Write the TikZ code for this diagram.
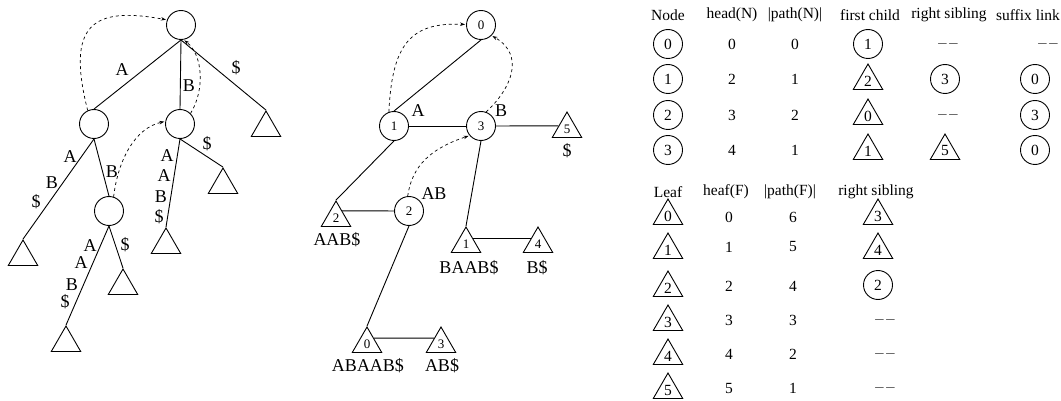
\documentclass[tikz,border=0pt]{standalone}
\usepackage{fontspec}
\setmainfont{Liberation Serif}
\usetikzlibrary{shapes.geometric,arrows.meta,calc}

\begin{document}
\begin{tikzpicture}[x=1pt,y=-1pt,line width=.9pt,
  vtx/.style={circle,draw,minimum size=29pt,inner sep=0pt},
  leaf/.style={regular polygon,regular polygon sides=3,draw,minimum size=34pt,inner sep=0pt},
  link/.style={line width=.7pt,dashed,-{Stealth[length=5pt,width=3.5pt]},shorten >=1pt},
  lbl/.style={font=\fontsize{18}{20}\selectfont,inner sep=0pt},
  num/.style={font=\fontsize{13}{15}\selectfont},
  cell/.style={font=\fontsize{15.5}{18}\selectfont,inner sep=0pt}]
\useasboundingbox (0,0) rectangle (1061,401);
% Suffix tree
\node[vtx] (root) at (181,25) {};
\node[vtx] (lc) at (94,124) {};
\node[vtx] (mc) at (180,124) {};
\node[vtx] (llc) at (109,211) {};
\node[leaf] (lt1) at (266,128) {};
\node[leaf] (lt2) at (23,257) {};
\node[leaf] (lt3) at (66,343) {};
\node[leaf] (lt4) at (123,286) {};
\node[leaf] (lt5) at (166,245) {};
\node[leaf] (lt6) at (223,185) {};
\draw (root.south) -- (lc.north);
\draw (root.south) -- (mc.north);
\draw (root.south) -- (lt1.north);
\draw (lc.south) -- (lt2.north);
\draw (lc.south) -- (llc.north);
\draw (llc.south) -- (lt3.north);
\draw (llc.south) -- (lt4.north);
\draw (mc.south) -- (lt5.north);
\draw (mc.south) -- (lt6.north);
% Suffix links
\draw[link] (lc.115) .. controls (66,25) and (92,6) .. (root.160);
\draw[link] (llc.72) .. controls (118,160) and (135,128) .. (mc.170);
\draw[link] (mc.45) .. controls (205,90) and (203,55) .. (root.-80);
% Edge labels
\node[lbl] (e1) at (122,70) {A};
\node[lbl] (e2) at (189,86) {B};
\node[lbl] (e3) at (236,68) {\$};
\node[lbl] (e4) at (70,157) {A};
\node[lbl] (e5) at (52,183) {B};
\node[lbl] (e6) at (36,202) {\$};
\node[lbl] (e7) at (112,172) {B};
\node[lbl] (e8) at (90,246) {A};
\node[lbl] (e9) at (81,263) {A};
\node[lbl] (e10) at (72,285) {B};
\node[lbl] (e11) at (65,302) {\$};
\node[lbl] (e12) at (125,245) {\$};
\node[lbl] (e13) at (167,156) {A};
\node[lbl] (e14) at (164,176) {A};
\node[lbl] (e15) at (161,197) {B};
\node[lbl] (e16) at (159,217) {\$};
\node[lbl] (e17) at (207,144) {\$};
% Compact representation
\node[vtx,num] (n0) at (481,25) {0};
\node[vtx,num] (n1) at (394,126) {1};
\node[vtx,num] (n3) at (481,126) {3};
\node[vtx,num] (n2) at (409,211) {2};
\node[leaf,num] (t5) at (567,129) {5};
\node[leaf,num] (t2) at (336,218) {2};
\node[leaf,num] (t1) at (466,244) {1};
\node[leaf,num] (t4) at (538,244) {4};
\node[leaf,num] (t0) at (367,344) {0};
\node[leaf,num] (t3) at (441,344) {3};
\draw (n0.south) -- (n1.north);
\draw (n1) -- (n3);
\draw (n3) -- ($(t5.north)!.55!(t5.corner 2)$);
\draw (n1.south) -- (t2.north);
\draw (n2) -- ($(t2.north)!.4!(t2.corner 3)$);
\draw (n2.south) -- (t0.north);
\draw (n3.south) -- (t1.north);
\draw ($(t1.north)!.47!(t1.corner 3)$) -- ($(t4.north)!.47!(t4.corner 2)$);
\draw ($(t0.north)!.45!(t0.corner 3)$) -- ($(t3.north)!.45!(t3.corner 2)$);
\draw[link] (n1.110) .. controls (392,45) and (410,22) .. (n0.178);
\draw[link] (n3.70) .. controls (512,88) and (525,55) .. (n0.-45);
\draw[link] (n2.95) .. controls (412,165) and (432,148) .. (n3.220);
\node[lbl] (s1) at (418,111) {A};
\node[lbl] (s3) at (501,111) {B};
\node[lbl] (s2) at (434,194) {AB};
\node[lbl] (w5) at (567,151) {\$};
\node[lbl] (w2) at (337,240) {AAB\$};
\node[lbl] (w1) at (469,268) {BAAB\$};
\node[lbl] (w4) at (537,268) {B\$};
\node[lbl] (w0) at (368,366) {ABAAB\$};
\node[lbl] (w3) at (442,366) {AB\$};
% Node table
\node[cell] (hnode) at (668,15) {Node};
\node[cell] (hhead) at (732,15) {head(N)};
\node[cell] (hpath) at (795,15) {|path(N)|};
\node[cell] (hfirst) at (870,15) {first child};
\node[cell] (hright) at (949,15) {right sibling};
\node[cell] (hsuf) at (1028,15) {suffix link};
\node[vtx,cell] (a0) at (668,44) {0};
\node[cell] (a0h) at (732,44) {0};
\node[cell] (a0p) at (795,44) {0};
\node[vtx,cell] (a0f) at (868,44) {1};
\node[cell] (a0r) at (948,44) {$--$};
\node[cell] (a0s) at (1048,44) {$--$};
\node[vtx,cell] (a1) at (668,79) {1};
\node[cell] (a1h) at (732,79) {2};
\node[cell] (a1p) at (795,79) {1};
\node[leaf,cell] (a1f) at (868,81) {2};
\node[vtx,cell] (a1r) at (945,79) {3};
\node[vtx,cell] (a1s) at (1035,79) {0};
\node[vtx,cell] (a2) at (668,115) {2};
\node[cell] (a2h) at (732,115) {3};
\node[cell] (a2p) at (795,115) {2};
\node[leaf,cell] (a2f) at (868,116) {0};
\node[cell] (a2r) at (948,115) {$--$};
\node[vtx,cell] (a2s) at (1035,115) {3};
\node[vtx,cell] (a3) at (668,150) {3};
\node[cell] (a3h) at (732,150) {4};
\node[cell] (a3p) at (795,150) {1};
\node[leaf,cell] (a3f) at (868,151) {1};
\node[leaf,cell] (a3r) at (945,151) {5};
\node[vtx,cell] (a3s) at (1035,150) {0};
% Leaf table
\node[cell] (hleaf) at (668,192) {Leaf};
\node[cell] (hheaf) at (726,192) {heaf(F)};
\node[cell] (hlpath) at (790,192) {|path(F)|};
\node[cell] (hlright) at (876,192) {right sibling};
\node[leaf,cell] (b0) at (668,216) {0};
\node[cell] (b0h) at (729,217) {0};
\node[cell] (b0p) at (793,217) {6};
\node[leaf,cell] (b0r) at (878,216) {3};
\node[leaf,cell] (b1) at (668,250) {1};
\node[cell] (b1h) at (729,247) {1};
\node[cell] (b1p) at (793,247) {5};
\node[leaf,cell] (b1r) at (878,250) {4};
\node[leaf,cell] (b2) at (668,288) {2};
\node[cell] (b2h) at (729,286) {2};
\node[cell] (b2p) at (793,286) {4};
\node[vtx,cell] (b2r) at (878,285) {2};
\node[leaf,cell] (b3) at (668,322) {3};
\node[cell] (b3h) at (729,320) {3};
\node[cell] (b3p) at (793,320) {3};
\node[cell] (b3r) at (885,320) {$--$};
\node[leaf,cell] (b4) at (668,356) {4};
\node[cell] (b4h) at (729,354) {4};
\node[cell] (b4p) at (793,354) {2};
\node[cell] (b4r) at (885,354) {$--$};
\node[leaf,cell] (b5) at (668,390) {5};
\node[cell] (b5h) at (729,388) {5};
\node[cell] (b5p) at (793,388) {1};
\node[cell] (b5r) at (885,388) {$--$};
\end{tikzpicture}
\end{document}
